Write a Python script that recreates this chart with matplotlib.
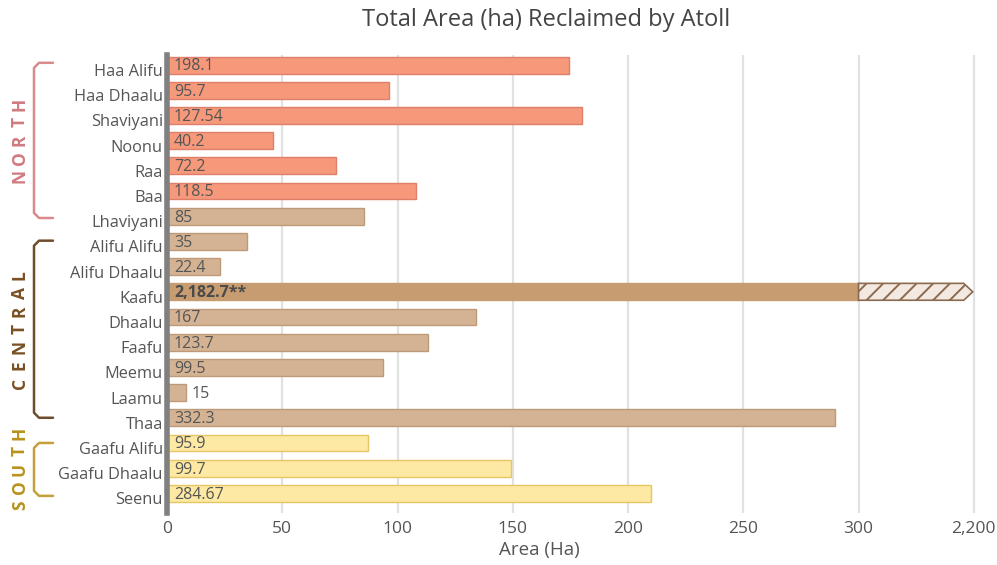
import numpy as np
import matplotlib
matplotlib.use('Agg')
import matplotlib.pyplot as plt
import matplotlib.transforms as mtransforms
from matplotlib.patches import Polygon
from matplotlib.ticker import FuncFormatter

plt.rcParams['font.family'] = ['Open Sans', 'DejaVu Sans']
plt.rcParams['hatch.linewidth'] = 1.4

# data
atolls = ['Haa Alifu', 'Haa Dhaalu', 'Shaviyani', 'Noonu', 'Raa', 'Baa', 'Lhaviyani',
          'Alifu Alifu', 'Alifu Dhaalu', 'Kaafu', 'Dhaalu', 'Faafu', 'Meemu', 'Laamu',
          'Thaa', 'Gaafu Alifu', 'Gaafu Dhaalu', 'Seenu']
bar_area = [174.4, 96.3, 180.2, 46, 73.2, 107.9, 85.3,
            34.6, 23, 2182.7, 134, 113.2, 93.8, 8.1,
            290, 87, 149.2, 210]
value_labels = ['198.1', '95.7', '127.54', '40.2', '72.2', '118.5', '85',
                '35', '22.4', '2,182.7**', '167', '123.7', '99.5', '15',
                '332.3', '95.9', '99.7', '284.67']
region = ['North'] * 6 + ['Central'] * 9 + ['South'] * 3
x_ticks = [0, 50, 100, 150, 200, 250, 300, 2200]

fill_colors = {'North': '#f6997a', 'Central': '#d4b394', 'South': '#fde9a3'}
edge_colors = {'North': '#df7f69', 'Central': '#bf9a78', 'South': '#e6c664'}

# broken axis: linear up to 300, then 300 -> 2200 squeezed into one 50-step
def fwd(x):
    x = np.asarray(x, dtype=float)
    return np.where(x <= 300, x, 300 + (x - 300) / 1900.0 * 50)

def inv(y):
    y = np.asarray(y, dtype=float)
    return np.where(y <= 300, y, 300 + (y - 300) * 1900.0 / 50)

fig = plt.figure(figsize=(9.97, 5.65), dpi=100)
W, H = 997.0, 565.0
ax = fig.add_axes([167 / W, 1 - 513 / H, (978.4 - 167) / W, (513 - 55) / H])
ax.set_xscale('function', functions=(fwd, inv))
ax.set_xlim(0, float(inv(352)))

y = np.arange(len(atolls))
bh = 0.67
for i in range(len(atolls)):
    fc = fill_colors[region[i]]
    ec = edge_colors[region[i]]
    if atolls[i] == 'Kaafu':
        fc, ec = '#c69c70', '#c69c70'
    v = min(bar_area[i], 300)
    ax.barh(y[i], v, height=bh, color=fc, edgecolor=ec, linewidth=1, zorder=3)

# hatched remainder of the Kaafu bar
k = atolls.index('Kaafu')
tip = bar_area[k]
base = float(inv(fwd(tip) - 3.9))
poly = Polygon([(300, k - bh / 2), (base, k - bh / 2), (tip, k), (base, k + bh / 2), (300, k + bh / 2)],
               closed=True, facecolor='#f3e9e0', edgecolor='#8a6a50', hatch='//', linewidth=1.2, zorder=3)
ax.add_patch(poly)

# value labels
for i in range(len(atolls)):
    if atolls[i] == 'Kaafu':
        ax.annotate(value_labels[i], (0, y[i]), xytext=(5, -1), textcoords='offset points',
                    va='center', ha='left', fontsize=11.5, fontweight='bold', color='#4a4a4a', zorder=4)
    elif atolls[i] == 'Laamu':
        ax.annotate(value_labels[i], (bar_area[i], y[i]), xytext=(4, -1), textcoords='offset points',
                    va='center', ha='left', fontsize=11.5, color='#555555', zorder=4)
    else:
        ax.annotate(value_labels[i], (0, y[i]), xytext=(5, -1), textcoords='offset points',
                    va='center', ha='left', fontsize=11.5, color='#555555', zorder=4)

ax.set_ylim(17.78, -0.4)
ax.set_yticks(y)
ax.set_yticklabels([])
ax.tick_params(axis='y', length=0)
# category names sit a little below their bars
ylab_trans = mtransforms.blended_transform_factory(ax.transAxes, ax.transData)
for i in range(len(atolls)):
    ax.annotate(atolls[i], (0, y[i]), xycoords=ylab_trans, xytext=(-3, -5), textcoords='offset points',
                ha='right', va='center', fontsize=11.8, color='#555555', annotation_clip=False)

ax.set_xticks(x_ticks)
ax.xaxis.set_major_formatter(FuncFormatter(lambda v, p: '{:,.0f}'.format(v)))
ax.xaxis.set_minor_locator(matplotlib.ticker.NullLocator())
ax.tick_params(axis='x', length=0, pad=6, labelsize=12.5, labelcolor='#555555')
ax.grid(axis='x', color='#e2e2e2', linewidth=1.6, zorder=0)
ax.set_axisbelow(True)
for s in ['top', 'right', 'bottom']:
    ax.spines[s].set_visible(False)
ax.spines['left'].set_color('#808080')
ax.spines['left'].set_linewidth(4)
ax.spines['left'].set_zorder(5)

ax.set_xlabel('Area (Ha)', fontsize=13.5, color='#555555')
ax.xaxis.set_label_coords((539 - 167) / (978.4 - 167), -(550 - 513) / (513 - 55))
ax.xaxis.label.set_va('center')
fig.text(546 / W, 1 - 20 / H, 'Total Area (ha) Reclaimed by Atoll', ha='center', va='center',
         fontsize=17, color='#444444')

# region brackets on the left
trans = mtransforms.blended_transform_factory(fig.transFigure, ax.transData)
groups = [('NORTH', -0.09, 6.07, '#d98a8a', '#d07a7e'),
          ('CENTRAL', 6.97, 14.0, '#6f4d2c', '#7a5023'),
          ('SOUTH', 15.0, 17.1, '#c4a03c', '#b8921c')]
c = 0.2
for name, top, bot, lc, tc in groups:
    xs = np.array([53, 39, 34, 34, 39, 53]) / W
    ys = [top, top, top + c, bot - c, bot, bot]
    ax.plot(xs, ys, transform=trans, color=lc, linewidth=1.8, clip_on=False,
            solid_joinstyle='round', solid_capstyle='round')
    mid = (top + bot) / 2
    n = len(name)
    for j, ch in enumerate(name):
        # letters read bottom to top, 18 px apart
        dy = ((n - 1) / 2 - j) * 18 / 25.2
        ax.text(20 / W, mid + dy, ch, transform=trans, rotation=90, ha='center', va='center',
                fontsize=12.5, fontweight='bold', color=tc)

fig.savefig('out.png', dpi=100)
